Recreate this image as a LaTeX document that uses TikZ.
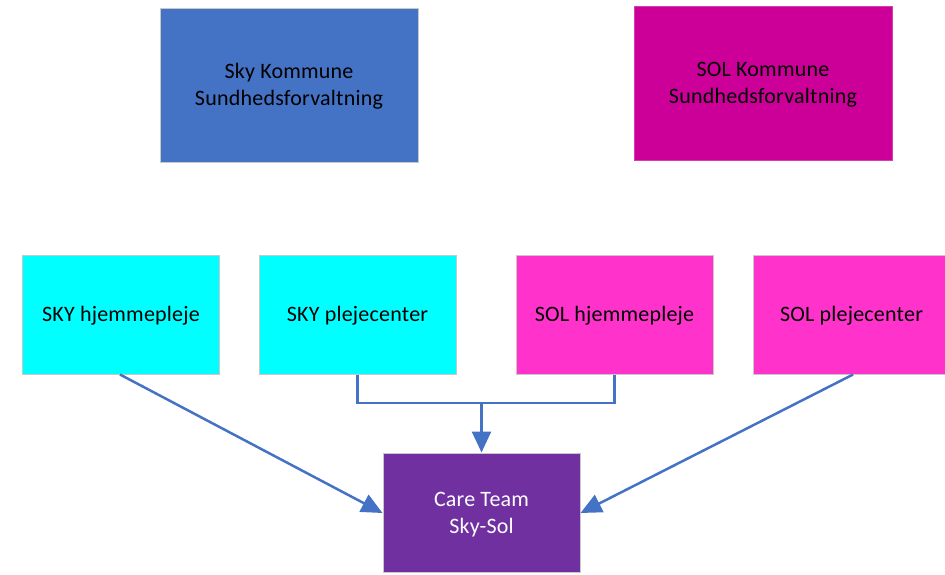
\documentclass[tikz,border=0pt]{standalone}
\usepackage{fontspec}
\setmainfont{Carlito}[LetterSpace=1]
\usetikzlibrary{arrows.meta}

\definecolor{skyblue}{HTML}{4472C4}
\definecolor{solmag}{HTML}{CC0099}
\definecolor{solmagline}{HTML}{D43DB0}
\definecolor{skycyan}{HTML}{00FFFF}
\definecolor{solpink}{HTML}{FF33CC}
\definecolor{carepurple}{HTML}{7030A0}
\definecolor{boxedge}{HTML}{C8C8C8}
\definecolor{linkblue}{HTML}{4472C4}

% set the label a little below the box centre, keeping its measured size
\newcommand{\boxtext}[1]{\raisebox{-2pt}[\height][\depth]{\begin{tabular}{@{}c@{}}#1\end{tabular}}}

\tikzset{
  unit/.style={rectangle, draw=boxedge, line width=1pt, inner sep=0pt,
    align=center, font=\fontsize{22}{27}\selectfont, text=black},
  bigbox/.style={unit, minimum width=258pt, minimum height=154pt},
  smallbox/.style={unit, minimum width=197pt, minimum height=119pt},
  link/.style={draw=linkblue, line width=2.5pt},
  linkarrow/.style={link, -{Triangle[length=21pt,width=19pt]}},
}

\begin{document}
\begin{tikzpicture}[x=1pt,y=-1pt]
  \useasboundingbox (0,0) rectangle (945,574);

  % municipal health administrations
  \node[bigbox, fill=skyblue] (skyk) at (289,85) {\boxtext{Sky Kommune\\Sundhedsforvaltning}};
  \node[bigbox, fill=solmag, draw=solmagline] (solk) at (763,83) {\boxtext{SOL Kommune\\Sundhedsforvaltning}};

  % care units
  \node[smallbox, fill=skycyan] (skyh) at (121,314.5) {\boxtext{SKY hjemmepleje}};
  \node[smallbox, fill=skycyan] (skyp) at (357.5,314.5) {\boxtext{SKY plejecenter}};
  \node[smallbox, fill=solpink] (solh) at (614.5,314.5) {\boxtext{SOL hjemmepleje}};
  \node[smallbox, fill=solpink] (solp) at (851.5,314.5) {\boxtext{SOL plejecenter}};

  % shared team
  \node[smallbox, fill=carepurple, text=white] (care) at (481.5,512.5) {\boxtext{Care Team\\Sky-Sol}};

  % connectors
  \coordinate (j) at (care.north |- 0,403);
  \coordinate (skyhout) at ([xshift=-1pt]skyh.south);
  \coordinate (solpout) at ([xshift=1.5pt]solp.south);
  \draw[linkarrow] (skyhout) -- ([yshift=-0.5pt]care.west);
  \draw[linkarrow] (solpout) -- ([yshift=-0.5pt]care.east);
  \draw[link] (skyp.south) |- (j) -| (solh.south);
  \draw[linkarrow] (j) -- (care.north);
\end{tikzpicture}
\end{document}
